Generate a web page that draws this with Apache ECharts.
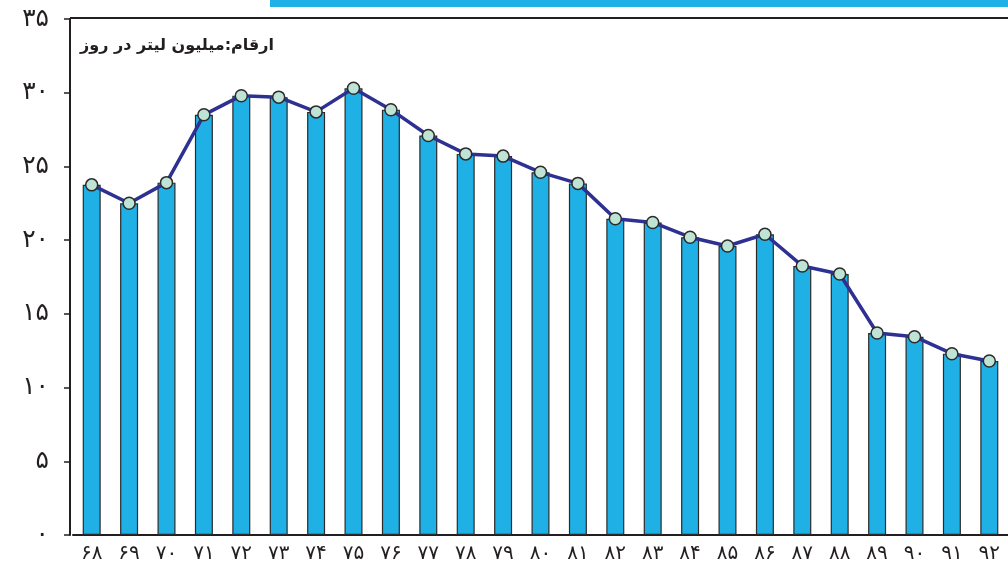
<!DOCTYPE html>
<html>
<head>
<meta charset="utf-8">
<script src="https://cdn.jsdelivr.net/npm/echarts@6/dist/echarts.min.js"></script>
<style>
  html, body { margin: 0; padding: 0; background: #fff; }
  #chart { width: 1008px; height: 567px; }
</style>
</head>
<body>
<div id="chart"></div>
<script>
var years = ['68', '69', '70', '71', '72', '73', '74', '75', '76', '77', '78', '79', '80',
  '81', '82', '83', '84', '85', '86', '87', '88', '89', '90', '91', '92'];
var consumption = [23.75, 22.5, 23.9, 28.5, 29.8, 29.7, 28.7, 30.3, 28.85, 27.1, 25.85, 25.7, 24.6,
  23.85, 21.45, 21.2, 20.2, 19.6, 20.4, 18.25, 17.7, 13.7, 13.45, 12.3, 11.8];
var yTicks = [0, 5, 10, 15, 20, 25, 30, 35];
var unitText = 'ارقام:میلیون لیتر در روز';

// latin -> persian digits
function fa(s) {
  return String(s).replace(/[0-9]/g, function (d) {
    return '۰۱۲۳۴۵۶۷۸۹'.charAt(+d);
  });
}

var chart = echarts.init(document.getElementById('chart'));

var option = {
  animation: false,
  backgroundColor: '#fff',
  textStyle: { fontFamily: 'DejaVu Sans', color: '#231f20' },
  title: {
    text: unitText,
    left: 75,
    top: 33,
    textStyle: { fontSize: 16, fontWeight: 'bold', color: '#231f20', fontFamily: 'DejaVu Sans' }
  },
  grid: { left: 73, top: 19, width: 939, height: 516 },
  graphic: [
    { type: 'rect', shape: { x: 270, y: 0, width: 738, height: 7 }, style: { fill: '#1fb0e6' } },
    { type: 'line', shape: { x1: 70, y1: 18, x2: 1008, y2: 18 }, style: { stroke: '#231f20', lineWidth: 2 } }
  ],
  xAxis: {
    type: 'category',
    data: years,
    axisLine: { lineStyle: { color: '#231f20', width: 2 } },
    axisTick: { show: false },
    axisLabel: {
      margin: 9,
      fontSize: 20,
      color: '#231f20',
      formatter: function (v) { return fa(v); }
    }
  },
  yAxis: {
    type: 'value',
    min: 0,
    max: 35,
    interval: 5,
    offset: 3,
    splitLine: { show: false },
    axisLine: { show: true, lineStyle: { color: '#231f20', width: 2 } },
    axisTick: { show: true, length: 6, lineStyle: { color: '#231f20', width: 1.5 } },
    axisLabel: {
      margin: 21,
      fontSize: 25,
      color: '#231f20',
      formatter: function (v) { return yTicks.indexOf(v) >= 0 ? fa(v) : ''; }
    }
  },
  series: [
    {
      type: 'bar',
      data: consumption,
      barWidth: 18,
      itemStyle: { color: '#1fb1e6', borderColor: '#2b2b2b', borderWidth: 1.2 },
      z: 2
    },
    {
      type: 'line',
      data: consumption,
      symbol: 'circle',
      symbolSize: 12,
      lineStyle: { color: '#2e3192', width: 3.5 },
      itemStyle: { color: '#bfe3d4', borderColor: '#2b2b2b', borderWidth: 1.5 },
      z: 3
    }
  ]
};

chart.setOption(option);
</script>
</body>
</html>
